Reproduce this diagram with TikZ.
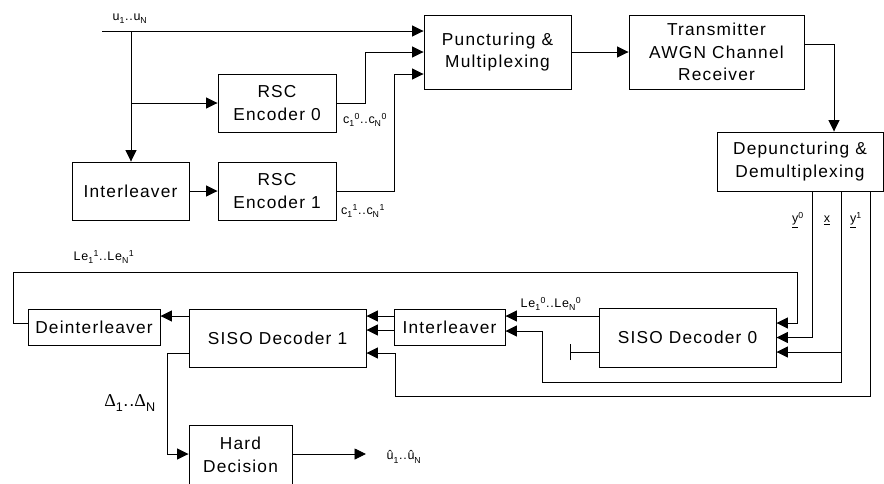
\documentclass[tikz,border=0pt]{standalone}
\usepackage{fontspec}
\setmainfont{Liberation Sans}[LetterSpace=6]
\newfontfamily\seriffont{Liberation Serif}
\usetikzlibrary{arrows.meta}
\newcommand{\lsub}[1]{\raisebox{-1.5pt}{\textsubscript{#1}}}
\newcommand{\lsup}[1]{\textsuperscript{#1}}
\tikzset{
  box/.style={draw, line width=0.9pt, inner sep=0pt, align=center, font=\fontsize{17.3}{22.5}\selectfont\addfontfeatures{LetterSpace=7}},
  lbl/.style={font=\fontsize{12.5}{14}\selectfont, inner sep=0pt},
  conn/.style={line width=0.9pt},
  arr/.style={conn, -{Triangle[length=11.5pt,width=11pt]}},
}
\begin{document}
\begin{tikzpicture}[x=1pt,y=-1pt]
\useasboundingbox (0,0) rectangle (884,483);
% boxes
\node[box, minimum width=117pt, minimum height=58pt] (intl1) at (130.5,191) {Interleaver};
\node[box, minimum width=118pt, minimum height=58pt] (rsc0) at (277,103) {RSC\\Encoder 0};
\node[box, minimum width=118pt, minimum height=58pt] (rsc1) at (277,191) {RSC\\Encoder 1};
\node[box, minimum width=147pt, minimum height=74pt] (punc) at (497.5,52) {Puncturing \&\\Multiplexing};
\node[box, minimum width=175pt, minimum height=74pt] (tx) at (716.5,52) {Transmitter\\AWGN Channel\\Receiver};
\node[box, minimum width=166pt, minimum height=59pt] (depunc) at (800,161.5) {Depuncturing \&\\Demultiplexing};
\node[box, minimum width=177pt, minimum height=59pt] (siso0) at (687.5,337.5) {SISO Decoder 0};
\node[box, minimum width=111pt, minimum height=36pt] (intl2) at (449.5,327) {Interleaver};
\node[box, minimum width=177pt, minimum height=58pt] (siso1) at (277.5,338) {SISO Decoder 1};
\node[box, minimum width=132pt, minimum height=36pt] (deint) at (94,327) {Deinterleaver};
\node[box, minimum width=103pt, minimum height=60pt] (hard) at (240.5,455) {Hard\\Decision};
% encoder side
\coordinate (uin) at (102,31);
\coordinate (ub) at (131,31);
\draw[arr] (uin) -- (uin -| punc.west);
\draw[arr] (ub) -- (ub |- intl1.north);
\draw[arr] (ub |- rsc0.west) -- (rsc0.west);
\coordinate (c0b) at (365,52);
\draw[arr] (rsc0.east) -| (c0b) -- (c0b -| punc.west);
\coordinate (c1b) at (394,74);
\draw[arr] (rsc1.east) -| (c1b) -- (c1b -| punc.west);
\draw[arr] (intl1.east) -- (rsc1.west);
\draw[arr] (punc.east) -- (tx.west);
\coordinate (txo) at (804,44);
\coordinate (dpi) at (834,44);
\draw[arr] (txo) -- (dpi) -- (dpi |- depunc.north);
% depuncturing outputs
\coordinate (ys0) at (812,191);
\draw[arr] (ys0) |- (siso0.east);
\coordinate (xs) at (841,191);
\coordinate (xb) at (841,382);
\coordinate (xl) at (542,331);
\draw[arr] (xs) -- (xb) -| (xl) -- (xl -| intl2.east);
\coordinate (xm) at (841,352);
\draw[arr] (xm) -- (xm -| siso0.east);
\coordinate (ys1) at (870,191);
\coordinate (yb) at (870,396);
\coordinate (yl) at (395,353);
\draw[arr] (ys1) -- (yb) -| (yl) -- (yl -| siso1.east);
% decoder side
\coordinate (le0) at (599,316);
\draw[arr] (le0) -- (le0 -| intl2.east);
\coordinate (t0) at (599,352);
\coordinate (t0e) at (570,352);
\draw[conn, -{Bar[width=16pt]}] (t0) -- (t0e);
\coordinate (i2a) at (394,316);
\coordinate (i2b) at (394,330);
\draw[arr] (i2a) -- (i2a -| siso1.east);
\draw[arr] (i2b) -- (i2b -| siso1.east);
\coordinate (s1a) at (189,316);
\draw[arr] (s1a) -- (s1a -| deint.east);
\coordinate (d0) at (28,323);
\coordinate (f1) at (13,272);
\coordinate (f2) at (797,323);
\draw[arr] (d0) -| (f1) -| (f2) -- (f2 -| siso0.east);
\coordinate (s1b) at (189,353);
\coordinate (hb) at (167,454);
\draw[arr] (s1b) -| (hb) -- (hb -| hard.west);
\coordinate (ho) at (366,454);
\draw[arr] (hard.east |- ho) -- (ho);
% labels
\node[lbl] (lu) at (130,19) {u\lsub{1}..u\lsub{N}};
\node[lbl] (lc0) at (365,120) {c\lsub{1}\lsup{0}..c\lsub{N}\lsup{0}};
\node[lbl] (lc1) at (363,211) {c\lsub{1}\lsup{1}..c\lsub{N}\lsup{1}};
\node[lbl] (ly0) at (798,220) {\underline{y}\lsup{0}};
\node[lbl] (lx) at (827,220) {\underline{x}};
\node[lbl] (ly1) at (856,220) {\underline{y}\lsup{1}};
\node[lbl] (lle0) at (551,304) {Le\lsub{1}\lsup{0}..Le\lsub{N}\lsup{0}};
\node[lbl] (lle1) at (104,257) {Le\lsub{1}\lsup{1}..Le\lsub{N}\lsup{1}};
\node[font=\fontsize{18}{20}\selectfont, inner sep=0pt] (ldelta) at (130,403) {{\seriffont Δ}\lsub{1}..{\seriffont Δ}\lsub{N}};
\node[lbl] (lu2) at (404,457) {û\lsub{1}..û\lsub{N}};
\end{tikzpicture}
\end{document}
